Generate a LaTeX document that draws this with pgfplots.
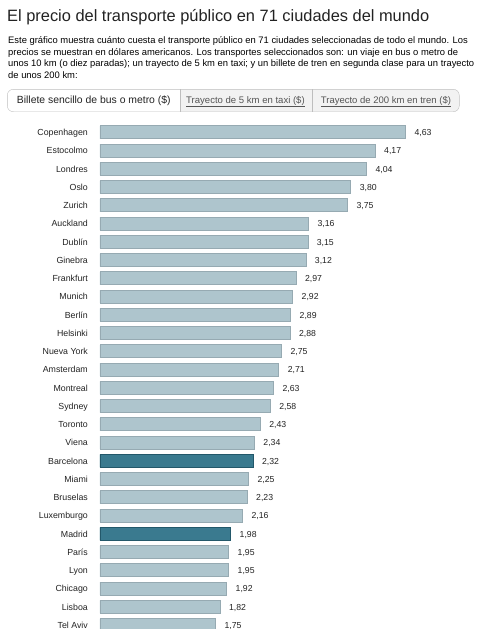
\documentclass[border=0pt]{standalone}
\usepackage{fontspec}
\setmainfont{Liberation Sans}
\usepackage{pgfplots}
\pgfplotsset{compat=1.18}
\definecolor{barlight}{RGB}{174,197,205}
\definecolor{baredge}{RGB}{150,170,178}
\definecolor{bardark}{RGB}{58,122,143}
\definecolor{bardarkedge}{RGB}{35,88,106}
\definecolor{txt}{RGB}{34,34,34}
\definecolor{tabtxt}{RGB}{85,85,85}
\definecolor{tabbg}{RGB}{242,242,242}
\definecolor{tabline}{RGB}{190,190,190}
\begin{document}
\begin{tikzpicture}
% title
\node[anchor=base west, inner sep=0pt, text=txt, font=\fontsize{16.4}{19}\selectfont] at (7pt,-21pt) {El precio del transporte público en 71 ciudades del mundo};
% description
\begin{scope}[every node/.style={anchor=base west, inner sep=0pt, text=black, font=\fontsize{9.4}{11}\selectfont}]
\node at (8pt,-43.3pt) {Este gráfico muestra cuánto cuesta el transporte público en 71 ciudades seleccionadas de todo el mundo. Los};
\node at (8pt,-55pt) {precios se muestran en dólares americanos. Los transportes seleccionados son: un viaje en bus o metro de};
\node at (8pt,-66.7pt) {unos 10 km (o diez paradas); un trayecto de 5 km en taxi; y un billete de tren en segunda clase para un trayecto};
\node at (8pt,-78.3pt) {de unos 200 km:};
\end{scope}
% tabs
\begin{scope}
\clip[rounded corners=6pt] (7.3pt,-89.3pt) rectangle (459.3pt,-111.7pt);
\fill[white] (7.3pt,-89.3pt) rectangle (180pt,-111.7pt);
\fill[tabbg] (180pt,-89.3pt) rectangle (459.3pt,-111.7pt);
\end{scope}
\draw[tabline, rounded corners=6pt] (7.3pt,-89.3pt) rectangle (459.3pt,-111.7pt);
\draw[tabline] (180pt,-89.3pt) -- (180pt,-111.7pt);
\draw[tabline] (312.3pt,-89.3pt) -- (312.3pt,-111.7pt);
\node[anchor=base west, inner sep=0pt, text=txt, font=\fontsize{10.4}{12}\selectfont] at (16.7pt,-103.3pt) {Billete sencillo de bus o metro (\$)};
\node[anchor=base west, inner sep=0pt, text=tabtxt, font=\fontsize{9.55}{11}\selectfont] at (186pt,-103.3pt) {\underline{Trayecto de 5 km en taxi (\$)}};
\node[anchor=base west, inner sep=0pt, text=tabtxt, font=\fontsize{9.5}{11}\selectfont] at (320.7pt,-103.3pt) {\underline{Trayecto de 200 km en tren (\$)}};
% chart
\begin{axis}[
  at={(100pt,-120pt)}, anchor=north west,
  scale only axis, width=390pt, height=509pt,
  xmin=0, xmax=5.909, ymin=-0.674, ymax=27.216,
  y dir=reverse,
  xbar, bar width=13pt, bar shift=0pt,
  axis line style={draw=none}, tick style={draw=none},
  xtick=\empty,
  ytick={0,...,27},
  yticklabels={Copenhagen,Estocolmo,Londres,Oslo,Zurich,Auckland,Dublín,Ginebra,Frankfurt,Munich,Berlín,Helsinki,Nueva York,Amsterdam,Montreal,Sydney,Toronto,Viena,Barcelona,Miami,Bruselas,Luxemburgo,Madrid,París,Lyon,Chicago,Lisboa,Tel Aviv},
  yticklabel style={font=\fontsize{8.8}{10}\selectfont, text=txt, inner sep=0pt, anchor=base east, xshift=-7.7pt, yshift=-3.2pt},
  every node near coord/.append style={font=\fontsize{8.7}{10}\selectfont, text=txt, anchor=base west, inner sep=0pt, xshift=8.6pt, yshift=-3.2pt},
  /pgf/number format/assume math mode=true,
  /pgf/number format/fixed,
  /pgf/number format/fixed zerofill,
  /pgf/number format/precision=2,
  /pgf/number format/use comma,
]
\addplot[fill=barlight, draw=baredge, line width=0.8pt, nodes near coords] coordinates {
(4.63,0) (4.17,1) (4.04,2) (3.80,3) (3.75,4) (3.16,5) (3.15,6) (3.12,7)
(2.97,8) (2.92,9) (2.89,10) (2.88,11) (2.75,12) (2.71,13) (2.63,14) (2.58,15)
(2.43,16) (2.34,17) (2.32,18) (2.25,19) (2.23,20) (2.16,21) (1.98,22) (1.95,23)
(1.95,24) (1.92,25) (1.82,26) (1.75,27)};
\addplot[fill=bardark, draw=bardarkedge, line width=0.8pt] coordinates {(2.32,18) (1.98,22)};
\end{axis}
\pgfresetboundingbox
\useasboundingbox (0pt,0pt) rectangle (490pt,-629pt);
\end{tikzpicture}
\end{document}
